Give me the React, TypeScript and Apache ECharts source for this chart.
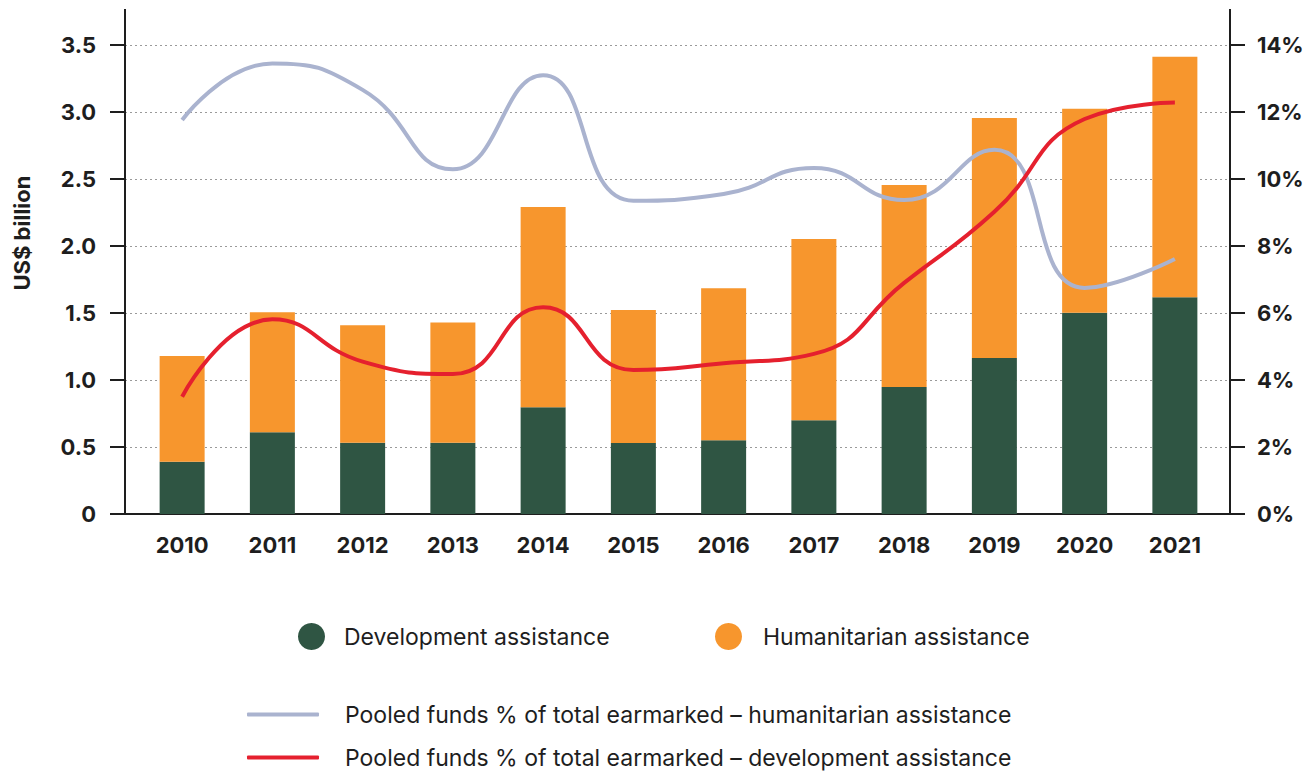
import React, { useEffect, useRef } from "react";
import * as echarts from "echarts";

const years = ["2010", "2011", "2012", "2013", "2014", "2015", "2016", "2017", "2018", "2019", "2020", "2021"];
const development = [0.39, 0.61, 0.532, 0.532, 0.796, 0.53, 0.55, 0.7, 0.948, 1.164, 1.502, 1.617];
const humanitarian = [0.79, 0.895, 0.876, 0.898, 1.495, 0.992, 1.134, 1.352, 1.507, 1.791, 1.523, 1.796];
const humPct = [11.76, 13.45, 12.66, 10.29, 13.1, 9.35, 9.55, 10.33, 9.37, 10.87, 6.75, 7.61];
const devPct = [3.5, 5.81, 4.55, 4.18, 6.17, 4.3, 4.5, 4.78, 6.9, 9.02, 11.79, 12.28];

const NAME_DEV = "Development assistance";
const NAME_HUM = "Humanitarian assistance";
const NAME_HUM_PCT = "Pooled funds % of total earmarked \u2013 humanitarian assistance";
const NAME_DEV_PCT = "Pooled funds % of total earmarked \u2013 development assistance";

const FONT = "Inter, 'Noto Sans', sans-serif";
const INK = "#1e1e1e";
const GREEN = "#2f5543";
const ORANGE = "#f7962d";
const GREY = "#aab3cf";
const RED = "#e5202e";

export default function App() {
  const ref = useRef<HTMLDivElement>(null);

  useEffect(() => {
    if (!ref.current) return;
    const chart = echarts.init(ref.current, null, { renderer: "svg" });
    const axisLine = { show: true, lineStyle: { color: INK, width: 2 } };
    const tickLabel = { fontSize: 22, fontWeight: "bold" as const, color: INK, fontFamily: FONT };
    const legendText = { fontSize: 23, color: INK, fontFamily: FONT };

    chart.setOption({
      animation: false,
      backgroundColor: "#ffffff",
      grid: [
        { left: 125, right: 83, top: 45, bottom: 259 },
        { left: 137, right: 93, top: 45, bottom: 259 },
      ],
      xAxis: [
        {
          gridIndex: 0,
          type: "category",
          data: years,
          axisLine,
          axisTick: { show: false },
          axisLabel: { show: false },
          splitLine: { show: false },
        },
        {
          gridIndex: 1,
          type: "category",
          data: years,
          axisLine: { show: false },
          axisTick: { show: false },
          axisLabel: { ...tickLabel, margin: 20 },
        },
      ],
      yAxis: [
        {
          gridIndex: 0,
          type: "value",
          min: 0,
          max: 3.5,
          interval: 0.5,
          axisLine,
          axisTick: { show: true, length: 15, lineStyle: { color: INK, width: 2 } },
          axisLabel: {
            ...tickLabel,
            margin: 29,
            formatter: (v: number) => (v === 0 ? "0" : v.toFixed(1)),
          },
          splitLine: { show: true, lineStyle: { color: "#9a9a9a", width: 1, type: [2, 3] } },
        },
        {
          gridIndex: 0,
          type: "value",
          position: "right",
          min: 0,
          max: 14,
          interval: 2,
          axisLine,
          axisTick: { show: true, length: 15, lineStyle: { color: INK, width: 2 } },
          axisLabel: { ...tickLabel, margin: 27, formatter: "{value}%" },
          splitLine: { show: false },
        },
        { gridIndex: 1, type: "value", min: 0, max: 3.5, show: false },
        { gridIndex: 1, type: "value", min: 0, max: 14, show: false },
      ],
      legend: [
        {
          data: [NAME_DEV],
          left: 298,
          top: 623,
          padding: 0,
          icon: "circle",
          itemWidth: 27,
          itemHeight: 27,
          textStyle: { ...legendText, padding: [0, 0, 0, 14] },
        },
        {
          data: [NAME_HUM],
          left: 715,
          top: 623,
          padding: 0,
          icon: "circle",
          itemWidth: 27,
          itemHeight: 27,
          textStyle: { ...legendText, padding: [0, 0, 0, 16] },
        },
        {
          data: [NAME_HUM_PCT],
          left: 247,
          top: 703,
          padding: 0,
          icon: "roundRect",
          itemWidth: 72,
          itemHeight: 4,
          textStyle: { ...legendText, padding: [0, 0, 0, 21] },
        },
        {
          data: [NAME_DEV_PCT],
          left: 247,
          top: 746,
          padding: 0,
          icon: "roundRect",
          itemWidth: 72,
          itemHeight: 4,
          textStyle: { ...legendText, padding: [0, 0, 0, 21] },
        },
      ],
      graphic: [
        { type: "line", shape: { x1: 125, y1: 9, x2: 125, y2: 45 }, style: { stroke: INK, lineWidth: 2 } },
        { type: "line", shape: { x1: 1230, y1: 9, x2: 1230, y2: 45 }, style: { stroke: INK, lineWidth: 2 } },
        {
          type: "text",
          x: 22,
          y: 233,
          rotation: Math.PI / 2,
          style: {
            text: "US$ billion",
            font: `bold 22px ${FONT}`,
            fill: INK,
            align: "center",
            verticalAlign: "middle",
          },
        },
      ],
      series: [
        {
          name: NAME_DEV,
          type: "bar",
          xAxisIndex: 1,
          yAxisIndex: 2,
          stack: "total",
          barWidth: 45,
          data: development,
          itemStyle: { color: GREEN },
        },
        {
          name: NAME_HUM,
          type: "bar",
          xAxisIndex: 1,
          yAxisIndex: 2,
          stack: "total",
          barWidth: 45,
          data: humanitarian,
          itemStyle: { color: ORANGE },
        },
        {
          name: NAME_HUM_PCT,
          type: "line",
          xAxisIndex: 1,
          yAxisIndex: 3,
          data: humPct,
          smooth: 0.5,
          symbol: "none",
          lineStyle: { color: GREY, width: 4 },
          itemStyle: { color: GREY },
        },
        {
          name: NAME_DEV_PCT,
          type: "line",
          xAxisIndex: 1,
          yAxisIndex: 3,
          data: devPct,
          smooth: 0.5,
          symbol: "none",
          lineStyle: { color: RED, width: 4 },
          itemStyle: { color: RED },
        },
      ],
    });
    return () => chart.dispose();
  }, []);

  return <div ref={ref} style={{ width: 1313, height: 773, position: "absolute", left: 0, top: 0 }} />;
}
